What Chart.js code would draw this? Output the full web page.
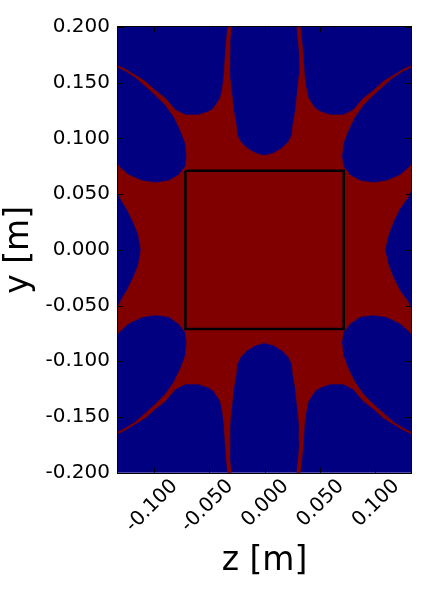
<!DOCTYPE html>
<html><head><meta charset="utf-8">
<script src="https://cdn.jsdelivr.net/npm/chart.js@4.4.0/dist/chart.umd.min.js"></script>
<style>html,body{margin:0;padding:0;background:#fff;}canvas{display:block;}</style>
</head><body>
<canvas id="c" width="421" height="598"></canvas>
<script>
// ---- axis ticks ----
const xTicks = [-0.1, -0.05, 0, 0.05, 0.1];
const xTickLabels = ['-0.100', '-0.050', '0.000', '0.050', '0.100'];
const yTicks = [-0.2, -0.15, -0.1, -0.05, 0, 0.05, 0.1, 0.15, 0.2];
const yTickLabels = ['-0.200', '-0.150', '-0.100', '-0.050', '0.000', '0.050', '0.100', '0.150', '0.200'];
const zLimits = [-0.1322, 0.1322];
const yLimits = [-0.2, 0.2];

// ---- boundary of the red (inner) region, read per quadrant ----
// upper-right: from top-lobe bottom (z=0) to right-lobe tip (y=0)
const urZ = [0.0000, 0.0022, 0.0081, 0.0157, 0.0216, 0.0247, 0.0256, 0.0277, 0.0297, 0.0312, 0.0318, 0.0306, 0.0292,
  0.0322, 0.0337, 0.0351, 0.0360, 0.0376, 0.0396, 0.0457, 0.0502, 0.0592, 0.0712, 0.0802, 0.0892, 0.0982, 0.1072, 0.1162, 0.1252, 0.1322,
  0.1322, 0.1252, 0.1162, 0.1072, 0.0982, 0.0892, 0.0817, 0.0757, 0.0712, 0.0697, 0.0712, 0.0772, 0.0862, 0.0982, 0.1103, 0.1223, 0.1297, 0.1322,
  0.1322, 0.1297, 0.1223, 0.1162, 0.1117, 0.1087];
const urY = [0.0846, 0.0852, 0.0867, 0.0912, 0.0971, 0.1031, 0.1121, 0.1241, 0.1420, 0.1570, 0.1720, 0.1869, 0.2000,
  0.2000, 0.1869, 0.1720, 0.1570, 0.1451, 0.1361, 0.1271, 0.1241, 0.1211, 0.1211, 0.1256, 0.1361, 0.1429, 0.1510, 0.1566, 0.1620, 0.1651,
  0.1638, 0.1606, 0.1548, 0.1471, 0.1390, 0.1301, 0.1196, 0.1076, 0.0957, 0.0837, 0.0747, 0.0672, 0.0621, 0.0603, 0.0621, 0.0672, 0.0733, 0.0762,
  0.0538, 0.0475, 0.0373, 0.0253, 0.0134, 0.0000];
// lower-right: from bottom-lobe top (z=0) to right-lobe tip (y=0)
const lrZ = [0.0000, 0.0022, 0.0081, 0.0157, 0.0216, 0.0247, 0.0256, 0.0277, 0.0297, 0.0312, 0.0318, 0.0306, 0.0292,
  0.0322, 0.0337, 0.0351, 0.0360, 0.0376, 0.0396, 0.0457, 0.0502, 0.0592, 0.0712, 0.0802, 0.0892, 0.0982, 0.1072, 0.1162, 0.1252, 0.1322,
  0.1322, 0.1252, 0.1162, 0.1072, 0.0982, 0.0892, 0.0817, 0.0757, 0.0712, 0.0697, 0.0712, 0.0772, 0.0862, 0.0982, 0.1103, 0.1223, 0.1297, 0.1322,
  0.1322, 0.1297, 0.1223, 0.1162, 0.1117, 0.1087];
const lrY = [-0.0833, -0.0840, -0.0856, -0.0902, -0.0962, -0.1024, -0.1115, -0.1236, -0.1416, -0.1568, -0.1718, -0.1868, -0.2000,
  -0.2000, -0.1868, -0.1718, -0.1568, -0.1448, -0.1357, -0.1266, -0.1236, -0.1205, -0.1205, -0.1250, -0.1357, -0.1426, -0.1506, -0.1562, -0.1617, -0.1648,
  -0.1635, -0.1602, -0.1544, -0.1466, -0.1386, -0.1296, -0.1190, -0.1070, -0.0950, -0.0830, -0.0740, -0.0664, -0.0600, -0.0584, -0.0603, -0.0660, -0.0723, -0.0752,
  -0.0530, -0.0468, -0.0366, -0.0248, -0.0130, 0.0000];
// lower-left: from bottom-lobe top (z=0) to left-lobe tip (y=0)
const llZ = [0.0000, -0.0022, -0.0081, -0.0157, -0.0216, -0.0247, -0.0256, -0.0277, -0.0297, -0.0312, -0.0318, -0.0312, -0.0300,
  -0.0332, -0.0345, -0.0356, -0.0365, -0.0380, -0.0400, -0.0460, -0.0505, -0.0595, -0.0715, -0.0805, -0.0895, -0.0985, -0.1075, -0.1165, -0.1255, -0.1322,
  -0.1322, -0.1255, -0.1165, -0.1075, -0.0985, -0.0895, -0.0820, -0.0760, -0.0715, -0.0703, -0.0715, -0.0775, -0.0865, -0.0985, -0.1105, -0.1225, -0.1297, -0.1322,
  -0.1322, -0.1290, -0.1238, -0.1190, -0.1140, -0.1115];
const llY = [-0.0833, -0.0840, -0.0856, -0.0902, -0.0962, -0.1024, -0.1115, -0.1236, -0.1416, -0.1568, -0.1718, -0.1868, -0.2000,
  -0.2000, -0.1868, -0.1718, -0.1568, -0.1448, -0.1357, -0.1266, -0.1236, -0.1205, -0.1205, -0.1250, -0.1357, -0.1426, -0.1506, -0.1562, -0.1617, -0.1648,
  -0.1635, -0.1602, -0.1544, -0.1466, -0.1386, -0.1296, -0.1190, -0.1070, -0.0950, -0.0830, -0.0740, -0.0664, -0.0600, -0.0584, -0.0603, -0.0660, -0.0723, -0.0752,
  -0.0508, -0.0440, -0.0358, -0.0260, -0.0140, 0.0000];
// upper-left: from top-lobe bottom (z=0) to left-lobe tip (y=0)
const ulZ = [0.0000, -0.0022, -0.0081, -0.0157, -0.0216, -0.0247, -0.0256, -0.0277, -0.0297, -0.0312, -0.0318, -0.0312, -0.0300,
  -0.0332, -0.0345, -0.0356, -0.0365, -0.0380, -0.0400, -0.0460, -0.0505, -0.0595, -0.0715, -0.0805, -0.0895, -0.0985, -0.1075, -0.1165, -0.1255, -0.1322,
  -0.1322, -0.1255, -0.1165, -0.1075, -0.0985, -0.0895, -0.0820, -0.0760, -0.0715, -0.0703, -0.0715, -0.0775, -0.0865, -0.0985, -0.1105, -0.1225, -0.1297, -0.1322,
  -0.1322, -0.1290, -0.1238, -0.1190, -0.1140, -0.1115];
const ulY = [0.0846, 0.0852, 0.0867, 0.0912, 0.0971, 0.1031, 0.1121, 0.1241, 0.1420, 0.1570, 0.1720, 0.1869, 0.2000,
  0.2000, 0.1869, 0.1720, 0.1570, 0.1451, 0.1361, 0.1271, 0.1241, 0.1211, 0.1211, 0.1256, 0.1361, 0.1429, 0.1510, 0.1566, 0.1620, 0.1651,
  0.1638, 0.1606, 0.1548, 0.1471, 0.1390, 0.1301, 0.1196, 0.1076, 0.0957, 0.0837, 0.0747, 0.0672, 0.0621, 0.0603, 0.0621, 0.0672, 0.0733, 0.0762,
  0.0508, 0.0440, 0.0358, 0.0260, 0.0140, 0.0000];

// ---- black box ----
const boxZ = [-0.0714, 0.0715, 0.0715, -0.0714, -0.0714];
const boxY = [0.0710, 0.0710, -0.0710, -0.0710, 0.0710];

// ---- build datasets ----
const regionPts = [];
function addPart(zs, ys, reverse) {
  const idx = zs.map((_, i) => i);
  if (reverse) idx.reverse();
  idx.forEach(i => regionPts.push({ x: zs[i], y: ys[i] }));
}
addPart(urZ, urY, false);
addPart(lrZ, lrY, true);
addPart(llZ, llY, false);
addPart(ulZ, ulY, true);
const boxPts = boxZ.map((z, i) => ({ x: z, y: boxY[i] }));

const BLUE = '#000080', RED = '#800000';
const FONT = 'DejaVu Sans';

const bgPlugin = {
  id: 'bg',
  beforeDraw(chart) {
    const c = chart.ctx, a = chart.chartArea;
    c.save();
    c.fillStyle = '#fff';
    c.fillRect(0, 0, chart.width, chart.height);
    c.fillStyle = BLUE;
    c.fillRect(a.left, a.top, a.right - a.left, a.bottom - a.top);
    c.restore();
  }
};
const framePlugin = {
  id: 'frame',
  afterDraw(chart) {
    const c = chart.ctx, a = chart.chartArea;
    const xs = chart.scales.x, ys = chart.scales.y;
    const L = 5;
    c.save();
    c.strokeStyle = '#000';
    c.lineWidth = 1;
    c.beginPath();
    xTicks.forEach(v => {
      const px = Math.round(xs.getPixelForValue(v)) + 0.5;
      c.moveTo(px, a.bottom); c.lineTo(px, a.bottom - L);
      c.moveTo(px, a.top); c.lineTo(px, a.top + L);
    });
    yTicks.forEach(v => {
      const py = Math.round(ys.getPixelForValue(v)) + 0.5;
      c.moveTo(a.left, py); c.lineTo(a.left + L, py);
      c.moveTo(a.right, py); c.lineTo(a.right - L, py);
    });
    c.stroke();
    c.strokeRect(Math.round(a.left) - 0.5, Math.round(a.top) - 0.5, Math.round(a.right - a.left) + 1, Math.round(a.bottom - a.top) + 1);
    c.restore();
  }
};

new Chart(document.getElementById('c'), {
  type: 'scatter',
  data: {
    datasets: [
      { label: 'box', data: boxPts, showLine: true, borderColor: '#000', borderWidth: 2.5, pointRadius: 0, fill: false, tension: 0, order: 0 },
      { label: 'region', data: regionPts, showLine: true, borderColor: RED, borderWidth: 0.6, backgroundColor: RED, pointRadius: 0, fill: 'shape', tension: 0, order: 1 }
    ]
  },
  options: {
    responsive: false,
    animation: false,
    devicePixelRatio: 1,
    layout: { padding: { top: 27, right: 10, left: 0, bottom: 0 } },
    plugins: { legend: { display: false }, tooltip: { enabled: false } },
    scales: {
      x: {
        type: 'linear', min: zLimits[0], max: zLimits[1],
        afterBuildTicks: s => { s.ticks = xTicks.map(v => ({ value: v })); },
        afterFit: s => { s.height = 125.3; },
        grid: { display: false, drawTicks: false }, border: { display: false },
        ticks: {
          autoSkip: false, minRotation: 45, maxRotation: 45, labelOffset: 21, padding: 2,
          color: '#000', font: { family: FONT, size: 20 },
          callback: (v, i) => xTickLabels[i]
        },
        title: { display: true, text: 'z [m]', color: '#000', font: { family: FONT, size: 33 }, padding: { top: 0, bottom: 17 } }
      },
      y: {
        type: 'linear', min: yLimits[0], max: yLimits[1],
        afterBuildTicks: s => { s.ticks = yTicks.map(v => ({ value: v })); },
        afterFit: s => { s.width = 118; },
        grid: { display: false, drawTicks: false }, border: { display: false },
        ticks: {
          autoSkip: false, padding: 8, color: '#000', font: { family: FONT, size: 20 },
          callback: (v, i) => yTickLabels[i]
        },
        title: { display: true, text: 'y [m]', color: '#000', font: { family: FONT, size: 33 }, padding: { top: 0, bottom: 0 } }
      }
    }
  },
  plugins: [bgPlugin, framePlugin]
});
</script>
</body></html>
